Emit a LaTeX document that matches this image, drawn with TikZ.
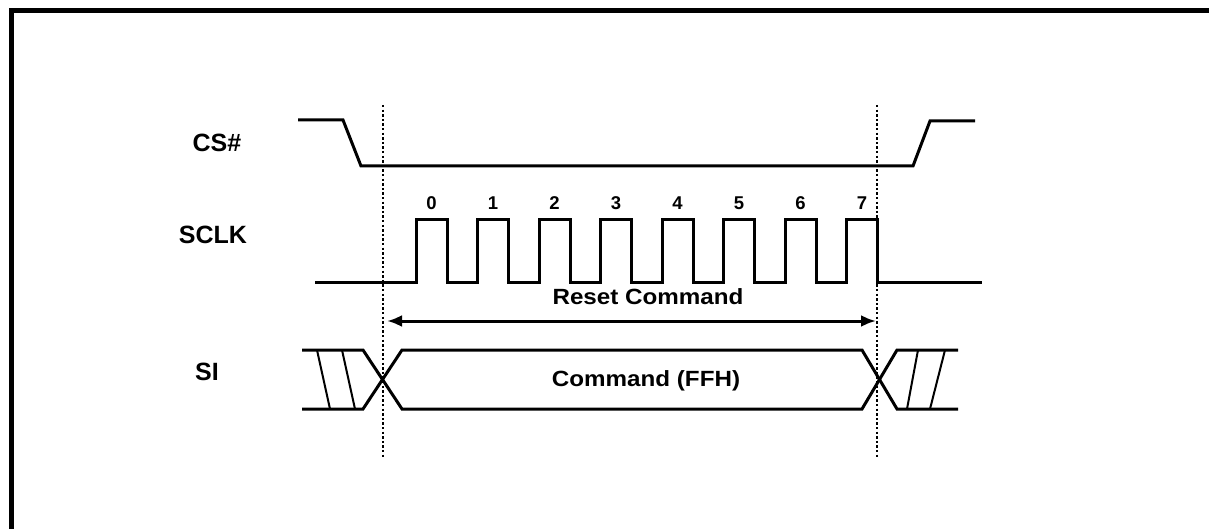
\documentclass[tikz,border=0pt]{standalone}
\usepackage{fontspec}
\setmainfont{Liberation Sans}
\usetikzlibrary{arrows.meta}

\begin{document}
\begin{tikzpicture}[
    x=1pt,
    y=-1pt,
    wave/.style={line width=3pt,line join=miter},
    hatch/.style={line width=2pt},
    guide/.style={line width=2.6pt,dash pattern=on 2.4pt off 2.2pt},
    signame/.style={inner sep=0pt,font=\bfseries\fontsize{25}{25}\selectfont},
    bitno/.style={inner sep=0pt,font=\bfseries\fontsize{18.5}{18.5}\selectfont},
    note/.style={inner sep=0pt,xscale=1.1,font=\bfseries\fontsize{22}{22}\selectfont}
  ]
  \useasboundingbox (0,0) rectangle (1209,529);
  \draw[line width=5pt] (11,529) -- (11,11) -- (1209,11);

  \node[signame] (cs) at (217,143) {CS\#};
  \node[signame] (sclk) at (213,235) {SCLK};
  \node[signame] (si) at (207,372) {SI};

  % guides
  \coordinate (gl) at (387,321);
  \coordinate (gr) at (876,321);
  \draw[guide] (383,105) -- (383,457);
  \draw[guide] (877,105) -- (877,457);

  % CS#
  \draw[wave] (298,120) -- (343,120) -- (361,166) -- (913,166) -- (930,121) -- (975,121);

  % SCLK
  \draw[wave] (315,282)
    \foreach \k in {0,...,7} {
      -- ({416+61.5*\k},282) -- ({416+61.5*\k},220)
      -- ({447+61.5*\k},220) -- ({447+61.5*\k},282)
    } -- (982,282);
  \foreach \k in {0,...,7} {
    \node[bitno] (b\k) at ({431.5+61.5*\k},203) {\k};
  }

  \node[note] (reset) at (648,297) {Reset Command};
  \draw[line width=3pt,{Latex[length=15pt,width=12pt]}-{Latex[length=15pt,width=12pt]}] (gl) -- (gr);

  % SI
  \draw[wave] (302,350) -- (363,350) -- (402,409) -- (862,409) -- (897,350) -- (958,350);
  \draw[wave] (302,409) -- (363,409) -- (402,350) -- (862,350) -- (897,409) -- (958,409);
  \draw[hatch] (317,350) -- (330,409);
  \draw[hatch] (342,350) -- (355,409);
  \draw[hatch] (918,350) -- (907,409);
  \draw[hatch] (945,350) -- (930,409);
  \node[note] (cmd) at (646,381) {Command (FFH)};
\end{tikzpicture}
\end{document}
